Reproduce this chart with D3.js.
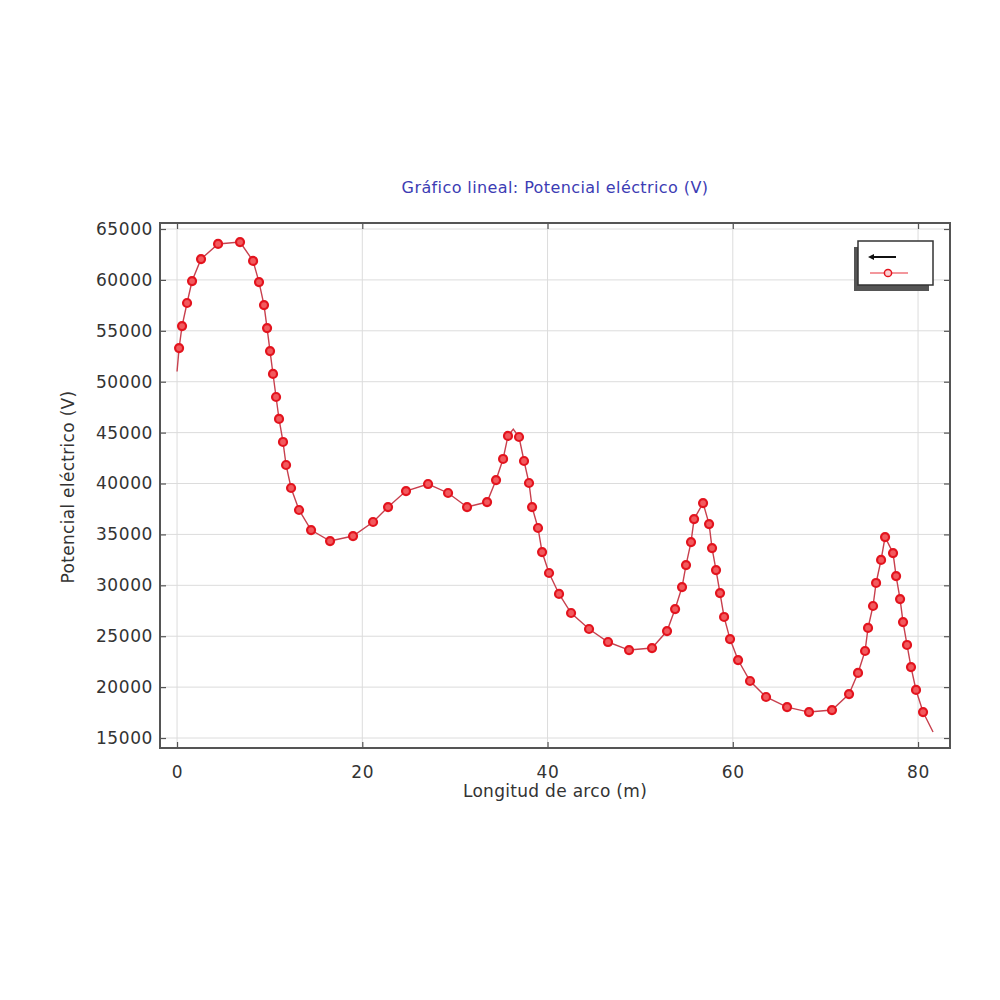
<!DOCTYPE html>
<html>
<head>
<meta charset="utf-8">
<script src="https://cdn.jsdelivr.net/npm/d3@7"></script>
<style>
  body { margin: 0; background: #fff; }
  text { font-family: "DejaVu Sans", sans-serif; }
</style>
</head>
<body>
<svg id="canvas" width="1000" height="1000"></svg>
<script>
// marker points
let arcLength = [0.22, 0.54, 1.08, 1.62, 2.59, 4.43, 6.80, 8.21, 8.85, 9.39, 9.72, 10.04, 10.36, 10.69, 11.01, 11.44, 11.77, 12.31, 13.17, 14.47,
  16.52, 19.00, 21.16, 22.78, 24.72, 27.10, 29.26, 31.31, 33.47, 34.44, 35.20, 35.73, 36.92, 37.46, 38.00, 38.33, 38.97, 39.41, 40.16, 41.24,
  42.54, 44.48, 46.53, 48.80, 51.28, 52.90, 53.77, 54.52, 54.95, 55.49, 55.82, 56.79, 57.44, 57.76, 58.19, 58.62, 59.06, 59.70, 60.57, 61.86,
  63.59, 65.86, 68.23, 70.71, 72.55, 73.52, 74.28, 74.60, 75.14, 75.47, 76.01, 76.44, 77.30, 77.63, 78.06, 78.38, 78.81, 79.24, 79.78, 80.54]
let potential = [53300, 55470, 57730, 59890, 62050, 63530, 63720, 61860, 59790, 57530, 55270, 53010, 50760, 48500, 46340, 44080, 41820, 39560, 37400, 35430,
  34350, 34840, 36220, 37690, 39260, 39950, 39070, 37690, 38180, 40340, 42410, 44670, 44570, 42210, 40050, 37690, 35630, 33270, 31210, 29150,
  27280, 25710, 24430, 23640, 23840, 25510, 27670, 29830, 31990, 34250, 36510, 38080, 36020, 33660, 31500, 29240, 26890, 24720, 22660, 20600,
  19030, 18040, 17550, 17750, 19320, 21390, 23550, 25810, 27970, 30230, 32490, 34740, 33170, 30910, 28650, 26390, 24140, 21970, 19720, 17550]

// extra curve points without markers (start, first sharp peak, end)
let extraX = [0, 36.3, 81.62]
let extraY = [51000, 45350, 15590]

let xTicks = [0, 20, 40, 60, 80]
let yTicks = [15000, 20000, 25000, 30000, 35000, 40000, 45000, 50000, 55000, 60000, 65000]

let title = "Gráfico lineal: Potencial eléctrico (V)"
let xLabel = "Longitud de arco (m)"
let yLabel = "Potencial eléctrico (V)"

let svg = d3.select('#canvas')

let plotL = 160, plotR = 950, plotT = 223, plotB = 748

let xScale = d3.scaleLinear().domain([-1.84, 83.45]).range([plotL, plotR])
let yScale = d3.scaleLinear().domain([14020, 65590]).range([plotB, plotT])

// grid
svg.append('g')
   .selectAll('line')
   .data(xTicks)
   .enter()
   .append('line')
   .attr('x1', (d) => xScale(d)).attr('x2', (d) => xScale(d))
   .attr('y1', plotT).attr('y2', plotB)
   .attr('stroke', '#dcdcdc').attr('stroke-width', 1)

svg.append('g')
   .selectAll('line')
   .data(yTicks)
   .enter()
   .append('line')
   .attr('x1', plotL).attr('x2', plotR)
   .attr('y1', (d) => yScale(d)).attr('y2', (d) => yScale(d))
   .attr('stroke', '#dcdcdc').attr('stroke-width', 1)

// axes, ticks pointing inwards
svg.append('g')
   .attr('transform', 'translate(0,' + plotB + ')')
   .call(d3.axisBottom(xScale).tickValues(xTicks).tickSizeInner(-6).tickSizeOuter(0).tickPadding(18))
svg.append('g')
   .attr('transform', 'translate(0,' + plotT + ')')
   .call(d3.axisTop(xScale).tickValues(xTicks).tickSizeInner(-6).tickSizeOuter(0).tickFormat(''))
svg.append('g')
   .attr('transform', 'translate(' + plotL + ',0)')
   .call(d3.axisLeft(yScale).tickValues(yTicks).tickFormat(d3.format('d')).tickSizeInner(-6).tickSizeOuter(0).tickPadding(7))
svg.append('g')
   .attr('transform', 'translate(' + plotR + ',0)')
   .call(d3.axisRight(yScale).tickValues(yTicks).tickSizeInner(-6).tickSizeOuter(0).tickFormat(''))

svg.selectAll('.domain').remove()
svg.selectAll('.tick line').attr('stroke', '#555').attr('stroke-width', 1.2)
svg.selectAll('.tick text')
   .attr('fill', '#333')
   .style('font-size', '17px')
   .style('letter-spacing', '0.6px')
   .style('font-family', '"DejaVu Sans", sans-serif')

// frame
svg.append('rect')
   .attr('x', plotL).attr('y', plotT)
   .attr('width', plotR - plotL).attr('height', plotB - plotT)
   .attr('fill', 'none').attr('stroke', '#555').attr('stroke-width', 2)

// curve
let curvePts = arcLength.map((x, i) => [x, potential[i]])
extraX.forEach((x, i) => curvePts.push([x, extraY[i]]))
curvePts.sort((a, b) => a[0] - b[0])

let line = d3.line()
   .x((d) => xScale(d[0]))
   .y((d) => yScale(d[1]))

svg.append('path')
   .datum(curvePts)
   .attr('d', line)
   .attr('fill', 'none')
   .attr('stroke', '#c8404e')
   .attr('stroke-width', 1.4)

svg.append('g')
   .selectAll('circle')
   .data(arcLength)
   .enter()
   .append('circle')
   .attr('cx', (d) => xScale(d))
   .attr('cy', (d, i) => yScale(potential[i]))
   .attr('r', 4)
   .attr('fill', '#f25a5e')
   .attr('stroke', '#e3141e')
   .attr('stroke-width', 2.2)

// legend box with shadow
let legend = svg.append('g')
legend.append('rect')
   .attr('x', 854).attr('y', 247).attr('width', 75).attr('height', 44)
   .attr('fill', '#555')
legend.append('rect')
   .attr('x', 858).attr('y', 241).attr('width', 75).attr('height', 44)
   .attr('fill', '#fff').attr('stroke', '#333').attr('stroke-width', 1.5)
legend.append('line')
   .attr('x1', 871).attr('x2', 896).attr('y1', 257).attr('y2', 257)
   .attr('stroke', '#111').attr('stroke-width', 2)
legend.append('path')
   .attr('d', 'M868,257 L874,254 L874,260 Z')
   .attr('fill', '#111')
legend.append('line')
   .attr('x1', 870).attr('x2', 908).attr('y1', 273).attr('y2', 273)
   .attr('stroke', '#e8303a').attr('stroke-width', 1.2)
legend.append('circle')
   .attr('cx', 888).attr('cy', 273).attr('r', 3.6)
   .attr('fill', '#fbd0d2').attr('stroke', '#e3141e').attr('stroke-width', 1.5)

// titles
svg.append('text')
   .attr('x', 555).attr('y', 193)
   .attr('text-anchor', 'middle')
   .attr('fill', '#3c3cb4')
   .style('font-size', '16px')
   .style('letter-spacing', '0.4px')
   .text(title)

svg.append('text')
   .attr('x', 555).attr('y', 797)
   .attr('text-anchor', 'middle')
   .attr('fill', '#333')
   .style('font-size', '17px')
   .style('letter-spacing', '0.3px')
   .text(xLabel)

svg.append('text')
   .attr('transform', 'translate(74,487) rotate(-90)')
   .attr('text-anchor', 'middle')
   .attr('fill', '#333')
   .style('font-size', '17px')
   .style('letter-spacing', '0.3px')
   .text(yLabel)
</script>
</body>
</html>
